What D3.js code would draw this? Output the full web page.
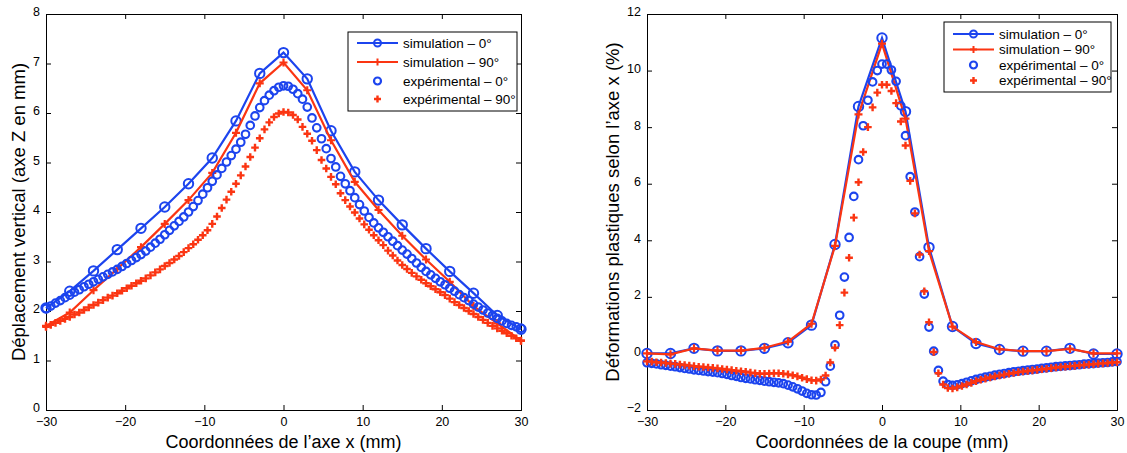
<!DOCTYPE html>
<html><head><meta charset="utf-8">
<script src="https://cdn.jsdelivr.net/npm/d3@7"></script>
<style>
html,body{margin:0;padding:0;background:#fff;}
svg text{font-family:"Liberation Sans",Arial,Helvetica,sans-serif;fill:#000;}
</style></head>
<body><svg id="c" width="1127" height="453"></svg>
<script>
// ---- data ----
const simX = [-30,-27,-24,-21,-18,-15,-12,-9,-6,-3,0,3,6,9,12,15,18,21,24,27,30];
const expX = [-30,-29.4,-28.8,-28.2,-27.6,-27,-26.4,-25.8,-25.2,-24.6,-24,-23.4,-22.8,-22.2,-21.6,-21,-20.4,-19.8,-19.2,-18.6,
 -18,-17.4,-16.8,-16.2,-15.6,-15,-14.4,-13.8,-13.2,-12.6,-12,-11.4,-10.8,-10.2,-9.6,-9,-8.4,-7.8,-7.2,-6.6,
 -6,-5.4,-4.8,-4.2,-3.6,-3,-2.4,-1.8,-1.2,-0.6,0,0.6,1.2,1.8,2.4,3,3.6,4.2,4.8,5.4,
 6,6.6,7.2,7.8,8.4,9,9.6,10.2,10.8,11.4,12,12.6,13.2,13.8,14.4,15,15.6,16.2,16.8,17.4,
 18,18.6,19.2,19.8,20.4,21,21.6,22.2,22.8,23.4,24,24.6,25.2,25.8,26.4,27,27.6,28.2,28.8,29.4,30];

// left chart: vertical displacement (mm)
const leftSim0  = [2.06,2.40,2.81,3.24,3.67,4.10,4.57,5.09,5.84,6.80,7.22,6.69,5.64,4.81,4.24,3.74,3.26,2.80,2.36,1.91,1.63];
const leftSim90 = [1.70,1.97,2.42,2.85,3.29,3.76,4.24,4.79,5.60,6.60,7.02,6.46,5.45,4.61,4.04,3.52,3.04,2.59,2.10,1.75,1.40];
const leftExp0 = [2.05,2.10,2.16,2.21,2.27,2.32,2.38,2.43,2.49,2.54,2.59,2.64,2.69,2.74,2.79,2.84,2.90,2.96,3.02,3.08,
 3.14,3.21,3.29,3.37,3.45,3.54,3.63,3.72,3.81,3.90,4.00,4.11,4.23,4.36,4.49,4.62,4.75,4.88,5.01,5.14,
 5.27,5.41,5.57,5.75,5.94,6.11,6.25,6.36,6.45,6.52,6.55,
 6.54,6.48,6.39,6.28,6.12,5.90,5.70,5.48,5.28,5.08,4.91,4.72,4.57,4.43,4.29,4.15,4.02,3.89,3.78,3.68,
 3.59,3.50,3.41,3.32,3.23,3.15,3.06,2.97,2.88,2.80,2.73,2.66,2.59,2.53,2.46,2.40,2.33,2.27,2.21,2.14,
 2.08,2.02,1.96,1.91,1.85,1.80,1.75,1.71,1.68,1.65];
const leftExp90 = [1.68,1.72,1.76,1.80,1.84,1.88,1.93,1.97,2.02,2.07,2.12,2.17,2.22,2.27,2.31,2.36,2.41,2.46,2.51,2.56,
 2.61,2.66,2.72,2.78,2.84,2.91,2.97,3.04,3.11,3.19,3.27,3.35,3.44,3.53,3.63,3.76,3.91,4.08,4.25,4.41,
 4.57,4.74,4.92,5.11,5.30,5.49,5.67,5.81,5.92,5.99,6.02,
 6.01,5.96,5.87,5.72,5.58,5.44,5.25,5.05,4.88,4.71,4.56,4.38,4.24,4.11,3.99,3.87,3.75,3.64,3.53,3.43,
 3.33,3.22,3.12,3.02,2.93,2.85,2.77,2.70,2.63,2.56,2.50,2.44,2.38,2.32,2.25,2.18,2.12,2.06,2.00,1.94,
 1.88,1.82,1.76,1.70,1.65,1.60,1.55,1.50,1.45,1.40];

// right chart: plastic strain (%)
const rightSim0  = [0.0,0.0,0.18,0.09,0.09,0.18,0.38,1.0,3.85,8.73,11.15,8.55,3.75,0.95,0.35,0.14,0.08,0.08,0.18,-0.02,-0.02];
const rightSim90 = [0.0,-0.03,0.18,0.10,0.10,0.20,0.42,1.05,3.80,8.45,10.95,8.30,3.62,0.95,0.40,0.15,0.08,0.08,0.16,0.0,0.0];
const rightExp0 = [-0.33,-0.35,-0.37,-0.40,-0.42,-0.45,-0.47,-0.50,-0.53,-0.55,-0.58,-0.60,-0.62,-0.64,-0.66,-0.68,-0.71,-0.74,-0.78,-0.81,
 -0.85,-0.88,-0.90,-0.93,-0.95,-0.98,-1.00,-1.02,-1.04,-1.07,-1.12,-1.18,-1.25,-1.33,-1.41,-1.46,-1.47,-1.38,
 -1.0,-0.45,0.3,1.35,2.7,4.1,5.55,6.85,8.05,8.95,9.6,10.0,10.23,
 10.23,10.02,9.62,8.75,7.7,6.25,5.0,3.42,2.1,0.93,0.08,-0.6,-0.98,-1.1,-1.13,-1.11,-1.07,-1.02,-0.97,-0.92,
 -0.88,-0.84,-0.81,-0.77,-0.74,-0.71,-0.68,-0.65,-0.63,-0.61,-0.59,-0.57,-0.55,-0.53,-0.51,-0.49,-0.47,-0.46,-0.44,-0.43,
 -0.41,-0.40,-0.38,-0.37,-0.36,-0.34,-0.33,-0.32,-0.30,-0.29];
const rightExp90 = [-0.28,-0.29,-0.31,-0.32,-0.34,-0.36,-0.37,-0.39,-0.41,-0.43,-0.45,-0.47,-0.48,-0.50,-0.51,-0.53,-0.55,-0.57,-0.59,-0.61,
 -0.63,-0.65,-0.68,-0.70,-0.72,-0.72,-0.71,-0.70,-0.70,-0.72,-0.74,-0.77,-0.81,-0.86,-0.91,-0.95,-0.96,-0.92,
 -0.78,-0.32,0.2,1.0,2.15,3.38,4.8,6.05,7.12,8.0,8.7,9.22,9.5,
 9.5,9.28,8.85,8.2,7.35,6.1,4.95,3.5,2.2,1.1,0.05,-0.7,-1.1,-1.22,-1.24,-1.2,-1.15,-1.1,-1.04,-0.98,
 -0.93,-0.89,-0.85,-0.81,-0.78,-0.75,-0.72,-0.69,-0.66,-0.64,-0.62,-0.60,-0.58,-0.56,-0.54,-0.52,-0.50,-0.48,-0.47,-0.45,
 -0.44,-0.42,-0.41,-0.39,-0.38,-0.36,-0.35,-0.34,-0.32,-0.31];

const xTicks = [-30,-20,-10,0,10,20,30];
const leftYTicks = [0,1,2,3,4,5,6,7,8];
const rightYTicks = [-2,0,2,4,6,8,10,12];
const legendLabels = ["simulation \u2013 0\u00b0","simulation \u2013 90\u00b0","exp\u00e9rimental \u2013 0\u00b0","exp\u00e9rimental \u2013 90\u00b0"];
const leftXLabel = "Coordonn\u00e9es de l\u2019axe x (mm)";
const leftYLabel = "D\u00e9placement vertical (axe Z  en mm)";
const rightXLabel = "Coordonn\u00e9es de la coupe (mm)";
const rightYLabel = "D\u00e9formations plastiques selon l\u2019axe x (%)";

// ---- drawing ----
const BLUE = "#1c44ee", RED = "#fb3512";
const svg = d3.select("#c");
const fmt = v => (v < 0 ? "\u2212" + Math.abs(v) : String(v));

function plusPath(x, y, s) {
  return `M${x - s},${y}H${x + s}M${x},${y - s}V${y + s}`;
}

function panel(cfg) {
  const x = d3.scaleLinear().domain([-30, 30]).range([cfg.x0, cfg.x1]);
  const y = d3.scaleLinear().domain(cfg.yDomain).range([cfg.y1, cfg.y0]);
  const g = svg.append("g");
  const tl = 5;
  const ax = g.append("g");
  ax.append("g").attr("transform", `translate(0,${cfg.y1})`)
    .call(d3.axisBottom(x).tickValues(xTicks).tickSize(-tl).tickPadding(7).tickFormat(fmt));
  ax.append("g").attr("transform", `translate(0,${cfg.y0})`)
    .call(d3.axisTop(x).tickValues(xTicks).tickSize(-tl).tickFormat(""));
  const ly = ax.append("g").attr("transform", `translate(${cfg.x0},0)`)
    .call(d3.axisLeft(y).tickValues(cfg.yTicks).tickSize(-tl).tickPadding(6).tickFormat(fmt));
  ly.selectAll(".tick text").attr("dy", "0.15em");
  ax.append("g").attr("transform", `translate(${cfg.x1},0)`)
    .call(d3.axisRight(y).tickValues(cfg.yTicks).tickSize(-tl).tickFormat(""));
  ax.selectAll(".domain").attr("stroke", "#000").attr("stroke-width", 1);
  ax.selectAll(".tick line").attr("stroke", "#000").attr("stroke-width", 1);
  ax.selectAll(".tick text").attr("font-size", 12.5).attr("font-family", "Liberation Sans, Arial, sans-serif");

  const line = d3.line().x((d, i) => x(simX[i])).y(d => y(d));
  g.append("path").datum(cfg.sim0).attr("d", line).attr("fill", "none").attr("stroke", BLUE).attr("stroke-width", 2.2);
  g.selectAll(".s0").data(cfg.sim0).enter().append("circle")
    .attr("cx", (d, i) => x(simX[i])).attr("cy", d => y(d)).attr("r", 4.7)
    .attr("fill", "none").attr("stroke", BLUE).attr("stroke-width", 2);
  g.append("path").datum(cfg.sim90).attr("d", line).attr("fill", "none").attr("stroke", RED).attr("stroke-width", 2.2);
  g.selectAll(".s9").data(cfg.sim90).enter().append("path")
    .attr("d", (d, i) => plusPath(x(simX[i]), y(d), 4)).attr("stroke", RED).attr("stroke-width", 2.2);
  g.selectAll(".e0").data(cfg.exp0).enter().append("circle")
    .attr("cx", (d, i) => x(expX[i])).attr("cy", d => y(d)).attr("r", 3.8)
    .attr("fill", "none").attr("stroke", BLUE).attr("stroke-width", 2.1);
  g.selectAll(".e9").data(cfg.exp90).enter().append("path")
    .attr("d", (d, i) => plusPath(x(expX[i]), y(d), 3.8)).attr("stroke", RED).attr("stroke-width", 2.4);

  g.append("text").attr("x", (cfg.x0 + cfg.x1) / 2).attr("y", 448).attr("text-anchor", "middle")
    .attr("font-size", 18).text(cfg.xLabel);
  g.append("text").attr("transform", `translate(${cfg.yLabelX},${(cfg.y0 + cfg.y1) / 2}) rotate(-90)`)
    .attr("text-anchor", "middle").attr("font-size", 18.5).text(cfg.yLabel);

  const L = cfg.legend;
  const lg = g.append("g");
  lg.append("rect").attr("x", L.x).attr("y", L.y).attr("width", L.w).attr("height", L.h)
    .attr("fill", "#fff").attr("stroke", "#000").attr("stroke-width", 1);
  const lx0 = L.x + 9, lx1 = L.x + 50, lxm = (lx0 + lx1) / 2, tx = L.x + 55;
  legendLabels.forEach((lab, i) => {
    const yy = L.rows[i];
    if (i === 0) {
      lg.append("line").attr("x1", lx0).attr("x2", lx1).attr("y1", yy).attr("y2", yy).attr("stroke", BLUE).attr("stroke-width", 2.2);
      lg.append("circle").attr("cx", lxm).attr("cy", yy).attr("r", 3.5).attr("fill", "none").attr("stroke", BLUE).attr("stroke-width", 2);
    } else if (i === 1) {
      lg.append("line").attr("x1", lx0).attr("x2", lx1).attr("y1", yy).attr("y2", yy).attr("stroke", RED).attr("stroke-width", 2.2);
      lg.append("path").attr("d", plusPath(lxm, yy, 3.5)).attr("stroke", RED).attr("stroke-width", 2);
    } else if (i === 2) {
      lg.append("circle").attr("cx", lxm).attr("cy", yy).attr("r", 3.5).attr("fill", "none").attr("stroke", BLUE).attr("stroke-width", 2.2);
    } else {
      lg.append("path").attr("d", plusPath(lxm, yy, 3.5)).attr("stroke", RED).attr("stroke-width", 2.4);
    }
    lg.append("text").attr("x", tx).attr("y", yy).attr("dy", "0.35em").attr("font-size", 13.5).text(lab);
  });
}

panel({
  x0: 46, x1: 521, y0: 14, y1: 410, yDomain: [0, 8], yTicks: leftYTicks,
  sim0: leftSim0, sim90: leftSim90, exp0: leftExp0, exp90: leftExp90,
  xLabel: leftXLabel, yLabel: leftYLabel, yLabelX: 25,
  legend: { x: 348, y: 32, w: 169, h: 79, rows: [43, 62, 81, 99] }
});
panel({
  x0: 647, x1: 1117, y0: 14, y1: 410, yDomain: [-2, 12], yTicks: rightYTicks,
  sim0: rightSim0, sim90: rightSim90, exp0: rightExp0, exp90: rightExp90,
  xLabel: rightXLabel, yLabel: rightYLabel, yLabelX: 619,
  legend: { x: 944, y: 22, w: 167, h: 70, rows: [34, 49.5, 65, 80.5] }
});
</script></body></html>
